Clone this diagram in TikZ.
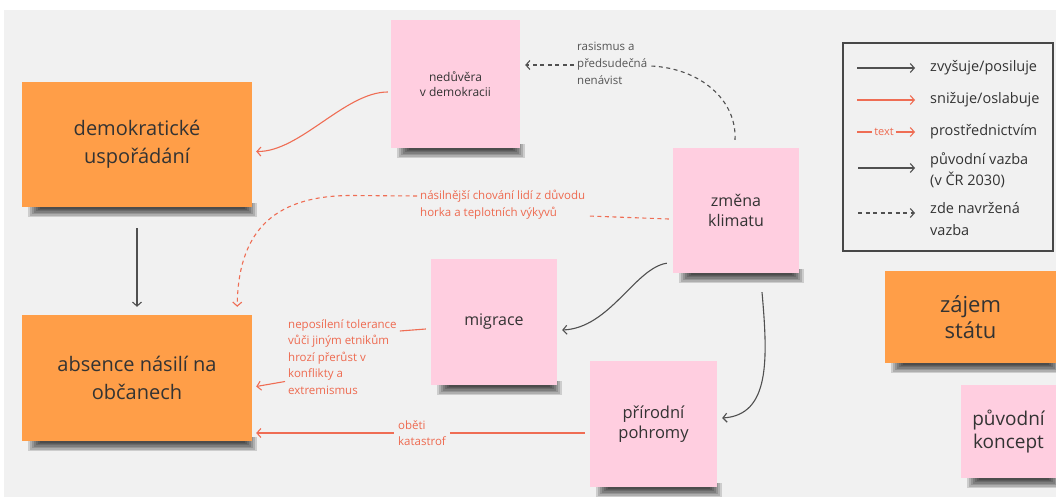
\documentclass[tikz,border=0pt]{standalone}
\usepackage{fontspec}
\setmainfont{Open Sans}
\usetikzlibrary{arrows.meta,calc}
\definecolor{bg}{HTML}{F1F1F1}
\definecolor{orng}{HTML}{FF9E48}
\definecolor{pnk}{HTML}{FFCEE0}
\definecolor{txt}{HTML}{333333}
\definecolor{gline}{HTML}{505050}
\definecolor{rline}{HTML}{EF6D54}
\definecolor{rtext}{HTML}{EE6A50}
\definecolor{gtext}{HTML}{555555}
\pgfdeclarelayer{bgl}
\pgfdeclarelayer{shd}
\pgfsetlayers{bgl,shd,main}
\newcommand\noteshadow[1]{%
  \begin{pgfonlayer}{shd}
    \foreach \k in {1,...,7} {
      \fill[black, opacity=0.15]
        ($(#1.south west)+(20-2*\k,-4)$) rectangle ($(#1.south east)+(-9+2*\k,1.4*\k)$);
    }
  \end{pgfonlayer}}
\begin{document}
\begin{tikzpicture}[x=1pt,y=-1pt,
  note/.style={inner sep=2pt, align=center, text=txt},
  orangenote/.style={note, fill=orng},
  pinknote/.style={note, fill=pnk},
  tip/.style={-{Straight Barb[length=4pt,width=9pt]}},
  grayarr/.style={draw=gline, line width=1.1pt, tip},
  redarr/.style={draw=rline, line width=1.1pt, tip},
  redline/.style={draw=rline, line width=1.1pt},
  graydash/.style={draw=gline, line width=1.1pt, dash pattern=on 4pt off 3.5pt},
  reddash/.style={draw=rline, line width=1.1pt, dash pattern=on 4pt off 3.5pt},
  redlabel/.style={text=rtext, align=left, inner xsep=3pt, inner ysep=0pt,
    font=\fontsize{11.5}{16.5}\selectfont},
  graylabel/.style={text=gtext, align=left, inner xsep=3pt, inner ysep=0pt,
    font=\fontsize{11.5}{17}\selectfont},
  legtext/.style={text=txt, align=left, anchor=west, inner sep=0pt,
    font=\fontsize{14.5}{21.5}\selectfont}
]
\useasboundingbox (0,0) rectangle (1056,497);
\begin{pgfonlayer}{bgl}
\fill[bg] (4,10) rectangle (1056,497);
\end{pgfonlayer}

% sticky notes
\node[orangenote, minimum width=230, minimum height=125, font=\fontsize{20}{28}\selectfont]
  (demo) at (137,144.5) {demokratické\\uspořádání};
\node[orangenote, minimum width=230, minimum height=126, font=\fontsize{20}{28}\selectfont]
  (absence) at (137,378) {absence násilí na\\občanech};
\node[pinknote, minimum width=129, minimum height=128, font=\fontsize{12}{14.5}\selectfont]
  (nedu) at (455.5,84) {nedůvěra\\v demokracii};
\node[pinknote, minimum width=126, minimum height=125, font=\fontsize{16}{19.5}\selectfont]
  (zmena) at (736,210.5) {změna\\klimatu};
\node[pinknote, minimum width=126, minimum height=126, font=\fontsize{16}{19.5}\selectfont]
  (migrace) at (494,322) {migrace};
\node[pinknote, minimum width=127, minimum height=126, font=\fontsize{16.5}{20}\selectfont]
  (pohromy) at (653.5,424) {přírodní\\pohromy};
\node[orangenote, minimum width=171, minimum height=92, font=\fontsize{22}{26}\selectfont]
  (zajem) at (970.5,317) {zájem\\státu};
\node[pinknote, minimum width=95, minimum height=93, font=\fontsize{19}{23}\selectfont]
  (puvodni) at (1008.5,431.5) {původní\\koncept};
\noteshadow{demo}
\noteshadow{absence}
\noteshadow{nedu}
\noteshadow{zmena}
\noteshadow{migrace}
\noteshadow{pohromy}
\noteshadow{zajem}
\noteshadow{puvodni}

% legend
\node[draw=txt!90, line width=1.6pt, minimum width=210, minimum height=208, inner sep=0pt]
  (legend) at (948,147) {};
\coordinate (l1a) at (857,68);  \coordinate (l1b) at (915,68);
\coordinate (l2a) at (857,100); \coordinate (l2b) at (915,100);
\coordinate (l3a) at (857,132); \coordinate (l3b) at (915,132);
\coordinate (l4a) at (858,168); \coordinate (l4b) at (915,168);
\coordinate (l5a) at (858,213); \coordinate (l5b) at (915,213);
\draw[grayarr] (l1a) -- (l1b);
\draw[redarr] (l2a) -- (l2b);
\node[text=rtext, font=\fontsize{11}{12}\selectfont, inner xsep=2pt, inner ysep=0pt]
  (l3t) at (884,131.5) {text};
\draw[redline] (l3a) -- (l3t.west |- l3a);
\draw[redarr] (l3t.east |- l3a) -- (l3b);
\draw[grayarr] (l4a) -- (l4b);
\draw[graydash, tip] (l5a) -- (l5b);
\node[legtext] (t1) at (930,68) {zvyšuje/posiluje};
\node[legtext] (t2) at (930,100) {snižuje/oslabuje};
\node[legtext] (t3) at (930,132) {prostřednictvím};
\node[legtext] (t4) at (930,170) {původní vazba\\(v ČR 2030)};
\node[legtext] (t5) at (930,219) {zde navržená\\vazba};

% labels
\node[graylabel, anchor=west] (rasismus) at (574,63) {rasismus a\\předsudečná\\nenávist};
\node[redlabel, anchor=west] (nasil) at (417,204.5) {násilnější chování lidí z důvodu\\horka a teplotních výkyvů};
\node[redlabel, anchor=west] (tol) at (285,357) {neposílení tolerance\\vůči jiným etnikům\\hrozí přerůst v\\konflikty a\\extremismus};
\node[redlabel, align=left, inner xsep=4pt] (obeti) at (422,433) {oběti\\katastrof};

% connectors
\draw[redarr] ($(nedu.west)+(-3,8)$) .. controls (345,92) and (300,152) .. ($(demo.east)+(4,7)$);
\draw[grayarr] ($(demo.south)+(0,21)$) -- ($(absence.north)+(0,-8)$);

\draw[graydash] ($(zmena.north)+(-1,-8)$) .. controls (737,100) and (700,68) .. ($(rasismus.east)+(0,3)$);
\draw[graydash, tip] ($(rasismus.west)+(0,2)$) -- ($(nedu.east)+(5,-19)$);

\coordinate (bendA) at (350,195.5);
\draw[reddash] ($(zmena.west)+(-4,8.5)$) -- ($(nasil.east)+(0,11.5)$);
\draw[reddash, tip] ($(nasil.west)+(0,-8.5)$) -- (bendA) .. controls (270,196) and (238,235) .. ($(absence.north east)+(-15,-8)$);

\draw[grayarr] ($(zmena.south west)+(-6,-10)$) .. controls (635,268) and (610,328) .. ($(migrace.east)+(5,8)$);
\draw[grayarr] ($(zmena.south)+(26,19)$) .. controls (768,360) and (770,415) .. ($(pohromy.east)+(5,-6)$);

\coordinate (tolR) at ($(tol.east)+(0,-26)$);
\coordinate (tolL) at ($(tol.west)+(0,24.5)$);
\draw[redline] ($(migrace.west)+(-5,7)$) -- (tolR);
\draw[redarr] (tolL) -- ($(absence.east)+(4,8.5)$);

\draw[redline] ($(pohromy.west)+(-5,9)$) -- (obeti.east |- 0,433);
\draw[redarr] (obeti.west |- 0,433) -- ($(absence.east)+(4,55)$);
\end{tikzpicture}
\end{document}
